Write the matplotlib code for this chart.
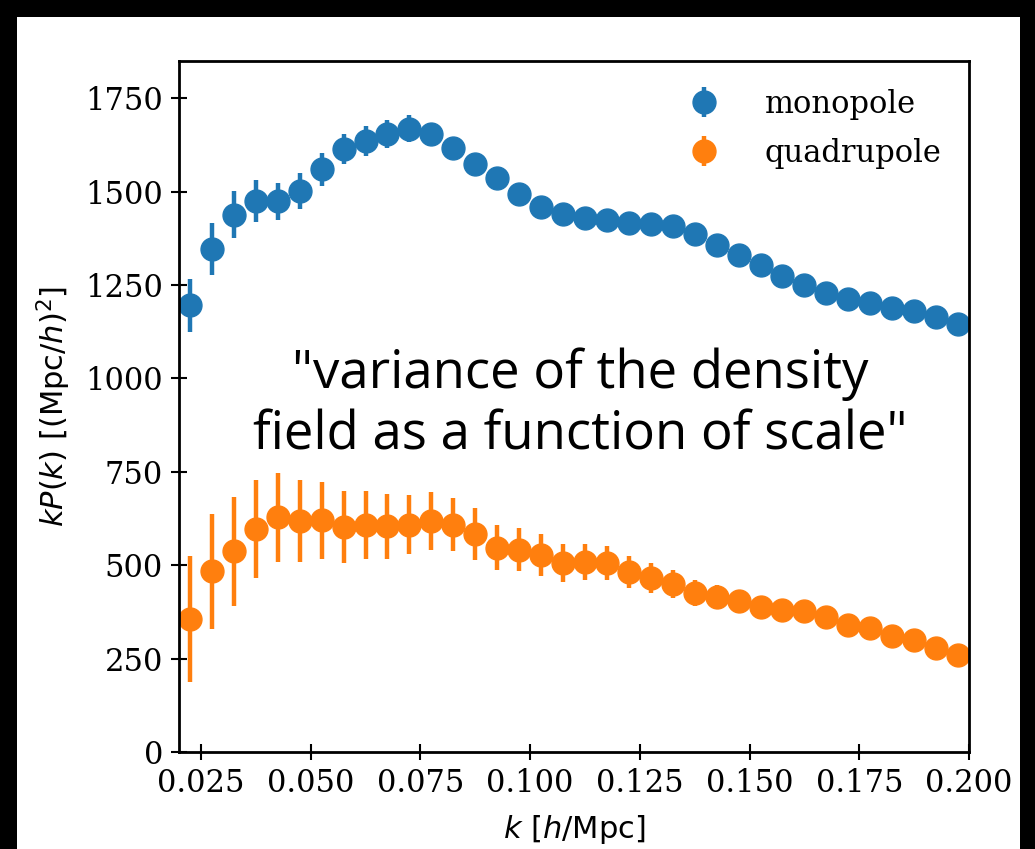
import numpy as np
import matplotlib
matplotlib.use('Agg')
import matplotlib.pyplot as plt
from matplotlib.patches import Rectangle

# k bins [h/Mpc]
k = [0.0225, 0.0275, 0.0325, 0.0375, 0.0425, 0.0475, 0.0525, 0.0575, 0.0625,
     0.0675, 0.0725, 0.0775, 0.0825, 0.0875, 0.0925, 0.0975, 0.1025, 0.1075,
     0.1125, 0.1175, 0.1225, 0.1275, 0.1325, 0.1375, 0.1425, 0.1475, 0.1525,
     0.1575, 0.1625, 0.1675, 0.1725, 0.1775, 0.1825, 0.1875, 0.1925, 0.1975]

# k*P0(k) and errors
mono     = [1196, 1346, 1439, 1475, 1474, 1502, 1560, 1614, 1635, 1655, 1669, 1655,
            1617, 1575, 1537, 1495, 1459, 1441, 1430, 1424, 1417, 1414, 1408, 1388,
            1357, 1330, 1303, 1274, 1250, 1229, 1214, 1202, 1190, 1181, 1165, 1147]
mono_err = [71, 69, 64, 56, 50, 47, 44, 41, 40, 38, 36, 30,
            28, 26, 24, 22, 21, 20, 19, 18, 17, 16, 16, 15,
            15, 14, 14, 13, 13, 12, 12, 12, 11, 11, 11, 10]

# k*P2(k) and errors
quad     = [356, 484, 538, 597, 628, 618, 621, 603, 607, 605, 609, 619,
            609, 583, 547, 542, 528, 507, 508, 506, 482, 466, 450, 425,
            415, 404, 388, 380, 377, 361, 340, 332, 310, 300, 278, 260]
quad_err = [168, 154, 146, 131, 120, 109, 103, 96, 91, 87, 79, 77,
            70, 69, 61, 57, 56, 51, 48, 45, 42, 40, 37, 35,
            33, 31, 30, 28, 27, 26, 25, 24, 23, 22, 21, 20]

note = '"variance of the density\nfield as a function of scale"'

fs = 22

fig = plt.figure(figsize=(10.35, 8.49), dpi=100, facecolor='black')
# white page inside the black frame
fig.patches.append(Rectangle((17/1035., 0), (1020-17)/1035., (849-17)/849.,
                             transform=fig.transFigure, facecolor='white',
                             edgecolor='none', zorder=-1))

ax = fig.add_axes([179/1035., 97/849., 790/1035., 691/849.])

ax.errorbar(k, mono, yerr=mono_err, fmt='o', ms=16.5, elinewidth=3.2,
            color='C0', label='monopole')
ax.errorbar(k, quad, yerr=quad_err, fmt='o', ms=16.5, elinewidth=3.2,
            color='C1', label='quadrupole')

ax.set_xlim(0.02, 0.2)
ax.set_ylim(0, 1850)
ax.set_xticks([0.025, 0.05, 0.075, 0.1, 0.125, 0.15, 0.175, 0.2])
ax.set_yticks([0, 250, 500, 750, 1000, 1250, 1500, 1750])

for s in ax.spines.values():
  s.set_linewidth(2.0)
ax.tick_params(direction='inout', length=11, width=1.5, labelsize=fs,
               labelfontfamily='DejaVu Serif', pad=6)

ax.set_xlabel(r'$k$ [$h$/Mpc]', fontsize=fs, labelpad=10)
ax.set_ylabel(r'$kP(k)$ [(Mpc/$h$)$^2$]', fontsize=fs, labelpad=9)

ax.legend(loc='upper right', frameon=False, labelspacing=0.6,
          handletextpad=1.0, prop={'family': 'DejaVu Serif', 'size': fs})

ax.text(0.508, 0.502, note, transform=ax.transAxes, ha='center', va='center',
        multialignment='center', family='Open Sans', fontsize=38)

fig.savefig('out.png', dpi=100, facecolor=fig.get_facecolor())
